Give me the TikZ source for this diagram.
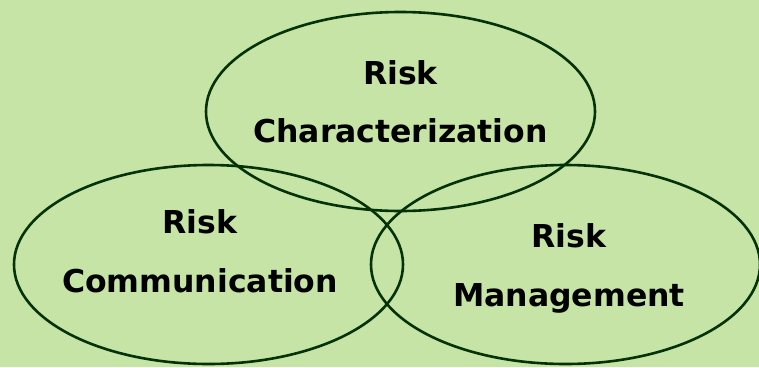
\documentclass[tikz,border=0pt]{standalone}
\usepackage{fontspec}
\setmainfont{DejaVu Sans}
\usetikzlibrary{shapes.geometric}
\definecolor{bggreen}{RGB}{197,228,166}
\definecolor{linegreen}{RGB}{5,50,5}
\begin{document}
\begin{tikzpicture}[x=1bp,y=-1bp,
  setring/.style={draw=linegreen, line width=2.6bp, ellipse, minimum width=389bp, minimum height=199bp, inner sep=0pt},
  lbl/.style={font=\fontsize{31.5bp}{34bp}\selectfont\bfseries, text=black, inner sep=0pt, anchor=base}]
\fill[bggreen] (0,0) rectangle (759,367);
\useasboundingbox (0,0) rectangle (759,367);
\node[setring] (top) at (400.5,111.5) {};
\node[setring] (left) at (208.5,264.5) {};
\node[setring] (right) at (565.5,264.5) {};
\node[lbl] (topA) at (400.5,84) {Risk};
\node[lbl] (topB) at (400.5,142) {Characterization};
\node[lbl] (leftA) at (200,233) {Risk};
\node[lbl] (leftB) at (200,292) {Communication};
\node[lbl] (rightA) at (569,247) {Risk};
\node[lbl] (rightB) at (569,306) {Management};
\end{tikzpicture}
\end{document}
